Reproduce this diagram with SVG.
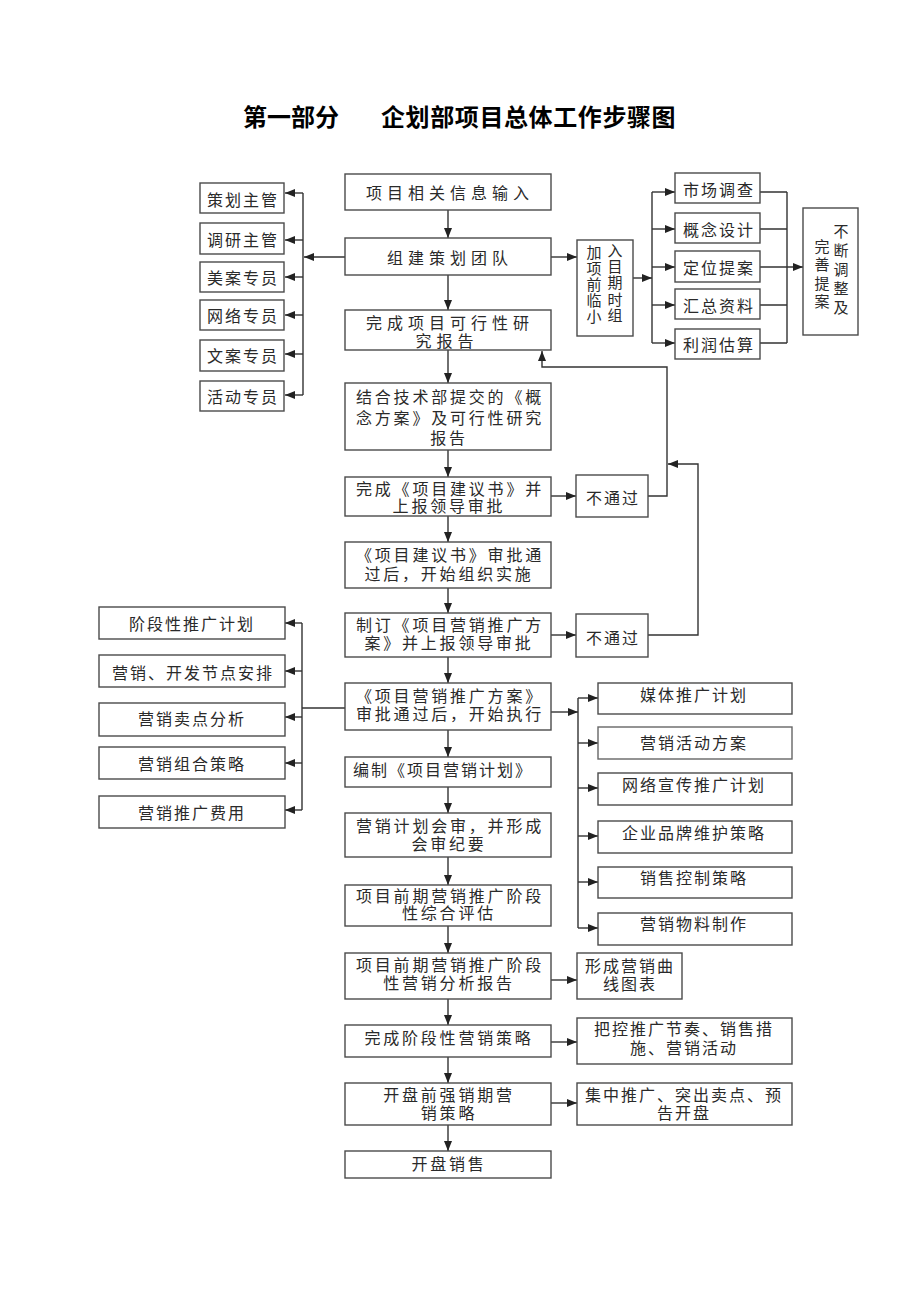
<svg xmlns="http://www.w3.org/2000/svg" width="920" height="1302" viewBox="0 0 920 1302">
<defs>
<marker id="ah" markerUnits="userSpaceOnUse" markerWidth="11" markerHeight="9" refX="10" refY="4" orient="auto">
<path d="M0,0 L10,4 L0,8 z" fill="#222"/>
</marker>
<style>
rect{fill:#fff;stroke:#4a4a4a;stroke-width:1.4}
text{font-family:"Noto Sans CJK SC","Noto Sans",sans-serif;fill:#2a2a2a;text-anchor:middle;dominant-baseline:central}
.m{font-size:16px;letter-spacing:2.8px}
.m5{font-size:16px;letter-spacing:5px}
.s{font-size:16px;letter-spacing:2px}
.v{font-size:15px}
.t{font-size:24px;font-weight:bold;fill:#000;text-anchor:start;dominant-baseline:auto}
#connectors path,#connectors line{stroke:#333;stroke-width:1.4;fill:none}
.a{marker-end:url(#ah)}
</style>
</defs>
<rect x="0" y="0" width="920" height="1302" style="fill:#fff;stroke:none"/>
<g id="title">
<text class="t" x="243" y="126">第一部分</text>
<text class="t" x="381" y="126" letter-spacing="0.6">企划部项目总体工作步骤图</text>
</g>

<g id="connectors">
<line class="a" x1="448" y1="210" x2="448" y2="238"/>
<line class="a" x1="448" y1="275" x2="448" y2="310"/>
<line class="a" x1="448" y1="350" x2="448" y2="383"/>
<line class="a" x1="448" y1="450" x2="448" y2="477"/>
<line class="a" x1="448" y1="516" x2="448" y2="542"/>
<line class="a" x1="448" y1="588" x2="448" y2="613"/>
<line class="a" x1="448" y1="657" x2="448" y2="683"/>
<line class="a" x1="448" y1="730" x2="448" y2="757"/>
<line class="a" x1="448" y1="787" x2="448" y2="813"/>
<line class="a" x1="448" y1="857" x2="448" y2="885"/>
<line class="a" x1="448" y1="926" x2="448" y2="953"/>
<line class="a" x1="448" y1="999" x2="448" y2="1025"/>
<line class="a" x1="448" y1="1057" x2="448" y2="1083"/>
<line class="a" x1="448" y1="1125" x2="448" y2="1151"/>
<line class="a" x1="345" y1="257" x2="304" y2="257"/>
<line x1="303" y1="193" x2="303" y2="395"/>
<line class="a" x1="303" y1="193" x2="285" y2="193"/>
<line class="a" x1="303" y1="240" x2="285" y2="240"/>
<line class="a" x1="303" y1="277" x2="285" y2="277"/>
<line class="a" x1="303" y1="315" x2="285" y2="315"/>
<line class="a" x1="303" y1="354" x2="285" y2="354"/>
<line class="a" x1="303" y1="395" x2="285" y2="395"/>
<line class="a" x1="551" y1="257" x2="577" y2="257"/>
<line class="a" x1="633" y1="278" x2="652" y2="278"/>
<line x1="652" y1="192" x2="652" y2="343"/>
<line class="a" x1="652" y1="192" x2="675" y2="192"/>
<line class="a" x1="652" y1="229" x2="675" y2="229"/>
<line class="a" x1="652" y1="267" x2="675" y2="267"/>
<line class="a" x1="652" y1="305" x2="675" y2="305"/>
<line class="a" x1="652" y1="343" x2="675" y2="343"/>
<path d="M760,192 H787 M760,229 H787 M760,305 H787 M760,343 H787 M787,192 V343"/>
<line class="a" x1="760" y1="267" x2="803" y2="267"/>
<line class="a" x1="551" y1="496" x2="576" y2="496"/>
<path class="a" d="M648,496 H667 V367 H542 V351"/>
<line class="a" x1="551" y1="635" x2="576" y2="635"/>
<path class="a" d="M648,635 H698 V464 H668"/>
<line x1="345" y1="708" x2="302" y2="708"/>
<line x1="302" y1="623" x2="302" y2="810"/>
<line class="a" x1="302" y1="623" x2="285" y2="623"/>
<line class="a" x1="302" y1="671" x2="285" y2="671"/>
<line class="a" x1="302" y1="717" x2="285" y2="717"/>
<line class="a" x1="302" y1="763" x2="285" y2="763"/>
<line class="a" x1="302" y1="810" x2="285" y2="810"/>
<line class="a" x1="551" y1="712" x2="578" y2="712"/>
<line x1="578" y1="698" x2="578" y2="928"/>
<line class="a" x1="578" y1="698" x2="598" y2="698"/>
<line class="a" x1="578" y1="743" x2="598" y2="743"/>
<line class="a" x1="578" y1="788" x2="598" y2="788"/>
<line class="a" x1="578" y1="836" x2="598" y2="836"/>
<line class="a" x1="578" y1="882" x2="598" y2="882"/>
<line class="a" x1="578" y1="928" x2="598" y2="928"/>
<line class="a" x1="551" y1="980" x2="577" y2="980"/>
<line class="a" x1="551" y1="1042" x2="577" y2="1042"/>
<line class="a" x1="551" y1="1103" x2="577" y2="1103"/>
</g>

<g id="n1"><rect x="345" y="174" width="206" height="36"/><text class="m5" x="450" y="192">项目相关信息输入</text></g>
<g id="n2"><rect x="345" y="238" width="206" height="37"/><text class="m5" x="450" y="257">组建策划团队</text></g>
<g id="n3"><rect x="345" y="310" width="206" height="40"/><text class="m5" x="450" y="322">完成项目可行性研</text><text class="m5" x="447" y="340">究报告</text></g>
<g id="n4"><rect x="345" y="383" width="206" height="67"/><text class="m" x="450" y="396">结合技术部提交的《概</text><text class="m" x="450" y="417">念方案》及可行性研究</text><text class="m" x="449" y="437">报告</text></g>
<g id="n5"><rect x="345" y="477" width="206" height="39"/><text class="m" x="450" y="488">完成《项目建议书》并</text><text class="m" x="449" y="505">上报领导审批</text></g>
<g id="n6"><rect x="345" y="542" width="206" height="46"/><text class="m" x="450" y="554">《项目建议书》审批通</text><text class="m" x="449" y="573">过后，开始组织实施</text></g>
<g id="n7"><rect x="345" y="613" width="206" height="44"/><text class="m" x="450" y="624">制订《项目营销推广方</text><text class="m" x="449" y="642">案》并上报领导审批</text></g>
<g id="n8"><rect x="345" y="683" width="206" height="47"/><text class="m" x="450" y="695">《项目营销推广方案》</text><text class="m" x="450" y="713">审批通过后，开始执行</text></g>
<g id="n9"><rect x="345" y="757" width="206" height="30"/><text class="s" x="353" y="769" style="text-anchor:start" letter-spacing="0.5">编制《项目营销计划》</text></g>
<g id="n10"><rect x="345" y="813" width="206" height="44"/><text class="m" x="450" y="825">营销计划会审，并形成</text><text class="m" x="449" y="843">会审纪要</text></g>
<g id="n11"><rect x="345" y="885" width="206" height="41"/><text class="m" x="450" y="895">项目前期营销推广阶段</text><text class="m" x="449" y="912">性综合评估</text></g>
<g id="n12"><rect x="345" y="953" width="206" height="46"/><text class="m" x="450" y="964">项目前期营销推广阶段</text><text class="m" x="449" y="982">性营销分析报告</text></g>
<g id="n13"><rect x="345" y="1025" width="206" height="32"/><text class="m" x="449" y="1037">完成阶段性营销策略</text></g>
<g id="n14"><rect x="345" y="1083" width="206" height="42"/><text class="m" x="449" y="1094">开盘前强销期营</text><text class="m" x="449" y="1112">销策略</text></g>
<g id="n15"><rect x="345" y="1151" width="206" height="27"/><text class="m" x="449" y="1163">开盘销售</text></g>

<g id="l1"><rect x="200" y="183" width="84" height="30"/><text class="s" x="243" y="199">策划主管</text></g>
<g id="l2"><rect x="200" y="223" width="84" height="31"/><text class="s" x="243" y="239">调研主管</text></g>
<g id="l3"><rect x="200" y="262" width="84" height="30"/><text class="s" x="243" y="277">美案专员</text></g>
<g id="l4"><rect x="200" y="300" width="84" height="30"/><text class="s" x="243" y="315">网络专员</text></g>
<g id="l5"><rect x="200" y="340" width="84" height="31"/><text class="s" x="243" y="355">文案专员</text></g>
<g id="l6"><rect x="200" y="381" width="84" height="30"/><text class="s" x="243" y="396">活动专员</text></g>

<g id="tg"><rect x="577" y="240" width="56" height="96"/>
<text class="v" x="594" y="251">加</text><text class="v" x="615" y="249">入</text>
<text class="v" x="594" y="267">项</text><text class="v" x="615" y="265">目</text>
<text class="v" x="594" y="283">前</text><text class="v" x="615" y="281">期</text>
<text class="v" x="594" y="299">临</text><text class="v" x="615" y="298">时</text>
<text class="v" x="594" y="315">小</text><text class="v" x="615" y="314">组</text>
</g>

<g id="r1"><rect x="675" y="173" width="85" height="30"/><text class="s" x="719" y="189">市场调查</text></g>
<g id="r2"><rect x="675" y="213" width="85" height="30"/><text class="s" x="719" y="229">概念设计</text></g>
<g id="r3"><rect x="675" y="251" width="85" height="31"/><text class="s" x="719" y="267">定位提案</text></g>
<g id="r4"><rect x="675" y="289" width="85" height="30"/><text class="s" x="719" y="305">汇总资料</text></g>
<g id="r5"><rect x="675" y="329" width="85" height="30"/><text class="s" x="719" y="344">利润估算</text></g>

<g id="fin"><rect x="803" y="208" width="55" height="127"/>
<text class="v" x="841" y="230">不</text><text class="v" x="841" y="249">断</text><text class="v" x="841" y="268">调</text><text class="v" x="841" y="287">整</text><text class="v" x="841" y="306">及</text>
<text class="v" x="822" y="245">完</text><text class="v" x="822" y="263">善</text><text class="v" x="822" y="282">提</text><text class="v" x="822" y="300">案</text>
</g>

<g id="rej1"><rect x="576" y="475" width="72" height="42"/><text class="s" x="613" y="497">不通过</text></g>
<g id="rej2"><rect x="576" y="614" width="72" height="43"/><text class="s" x="613" y="637">不通过</text></g>

<g id="ll1"><rect x="99" y="607" width="186" height="32"/><text class="s" x="192" y="623">阶段性推广计划</text></g>
<g id="ll2"><rect x="99" y="655" width="186" height="32"/><text class="s" x="193" y="672">营销、开发节点安排</text></g>
<g id="ll3"><rect x="99" y="703" width="186" height="33"/><text class="s" x="192" y="718">营销卖点分析</text></g>
<g id="ll4"><rect x="99" y="747" width="186" height="32"/><text class="s" x="192" y="763">营销组合策略</text></g>
<g id="ll5"><rect x="99" y="796" width="186" height="32"/><text class="s" x="192" y="812">营销推广费用</text></g>

<g id="lr1"><rect x="598" y="683" width="194" height="31"/><text class="s" x="694" y="694">媒体推广计划</text></g>
<g id="lr2"><rect x="598" y="727" width="194" height="32" style="stroke:#666"/><text class="s" x="694" y="742">营销活动方案</text></g>
<g id="lr3"><rect x="598" y="773" width="194" height="32"/><text class="s" x="694" y="784">网络宣传推广计划</text></g>
<g id="lr4"><rect x="598" y="821" width="194" height="32"/><text class="s" x="694" y="832">企业品牌维护策略</text></g>
<g id="lr5"><rect x="598" y="867" width="194" height="31"/><text class="s" x="694" y="877">销售控制策略</text></g>
<g id="lr6"><rect x="598" y="913" width="194" height="32"/><text class="s" x="694" y="923">营销物料制作</text></g>

<g id="o1"><rect x="577" y="953" width="105" height="46"/><text class="s" x="630" y="965">形成营销曲</text><text class="s" x="630" y="983">线图表</text></g>
<g id="o2"><rect x="577" y="1018" width="215" height="46"/><text class="s" x="684" y="1028">把控推广节奏、销售措</text><text class="s" x="684" y="1047">施、营销活动</text></g>
<g id="o3"><rect x="577" y="1083" width="215" height="42"/><text class="s" x="684" y="1094">集中推广、突出卖点、预</text><text class="s" x="684" y="1112">告开盘</text></g>
</svg>
